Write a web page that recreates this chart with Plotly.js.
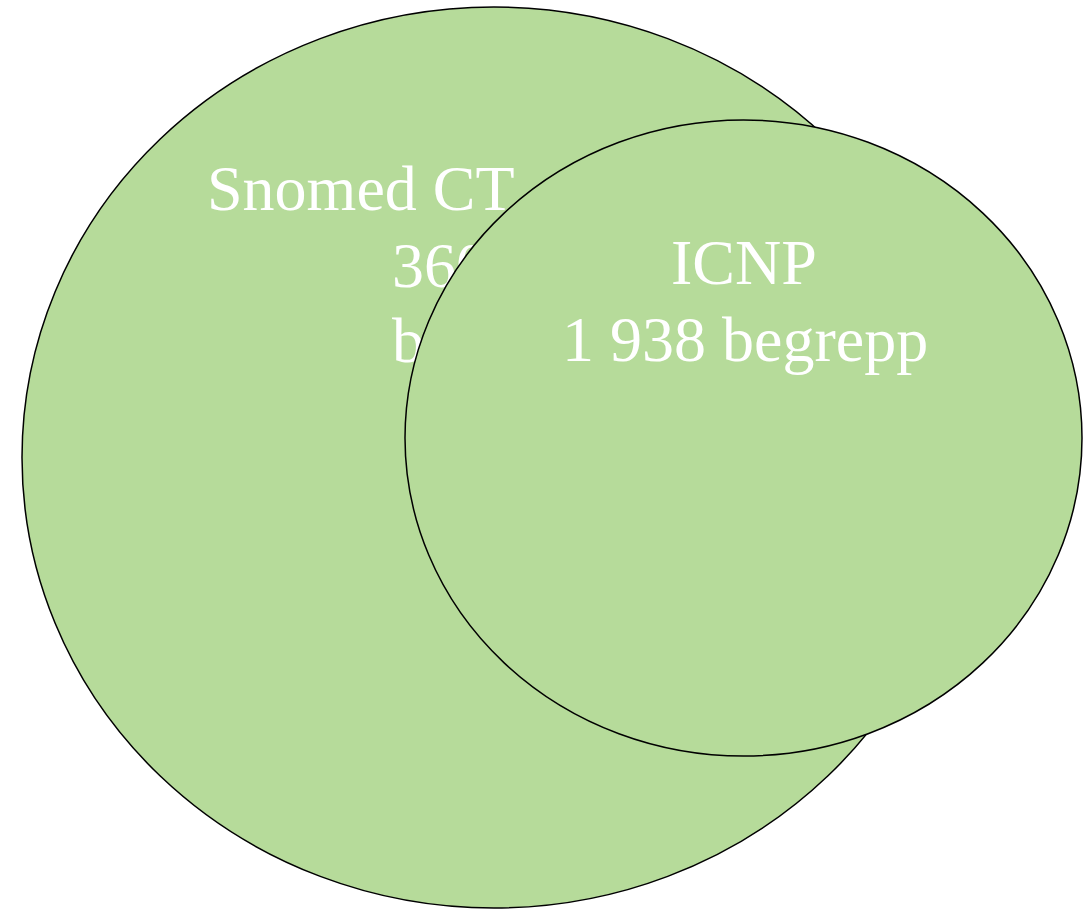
<!DOCTYPE html>
<html>
<head>
<meta charset="utf-8">
<script src="https://cdn.plot.ly/plotly-3.0.1.min.js"></script>
<style>html,body{margin:0;padding:0;background:#fff;}#chart{width:1089px;height:909px;}</style>
</head>
<body>
<div id="chart"></div>
<script>
// Data
var setNames = ["Snomed CT", "ICNP"];
var setCounts = ["360 000 begrepp", "1 938 begrepp"];
var snomedLines = ["Snomed CT", "360 000", "begrepp"];
var icnpLines = ["ICNP", "1 938 begrepp"];

var fillColor = "#b6db9a";
var font = {family: "Liberation Serif, Times New Roman, serif", size: 64, color: "#ffffff"};

// Snomed text (drawn between the two shapes so the ICNP ellipse covers part of it)
var snomedTrace = {
  type: "scatter",
  mode: "text",
  x: [207, 392, 392],
  y: [194, 271, 346],
  text: snomedLines,
  textposition: "middle right",
  textfont: font,
  hoverinfo: "skip",
  showlegend: false
};

var layout = {
  width: 1089,
  height: 909,
  margin: {l: 0, r: 0, t: 0, b: 0},
  paper_bgcolor: "#ffffff",
  plot_bgcolor: "#ffffff",
  showlegend: false,
  xaxis: {range: [0, 1089], visible: false, fixedrange: true},
  yaxis: {range: [909, 0], visible: false, fixedrange: true},
  shapes: [
    {type: "circle", xref: "x", yref: "y", x0: 22, x1: 966, y0: 7, y1: 908,
     fillcolor: fillColor, line: {color: "#000000", width: 1.5}, layer: "below"},
    {type: "circle", xref: "x", yref: "y", x0: 405, x1: 1082, y0: 120, y1: 756,
     fillcolor: fillColor, line: {color: "#000000", width: 1.5}, layer: "above"}
  ],
  annotations: [
    {x: 744, y: 262, xref: "x", yref: "y", text: icnpLines[0], showarrow: false,
     xanchor: "center", yanchor: "middle", font: font},
    {x: 745, y: 339, xref: "x", yref: "y", text: icnpLines[1], showarrow: false,
     xanchor: "center", yanchor: "middle", font: font}
  ]
};

Plotly.newPlot("chart", [snomedTrace], layout, {displayModeBar: false, staticPlot: true});
</script>
</body>
</html>
